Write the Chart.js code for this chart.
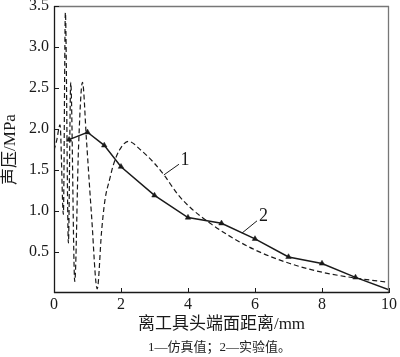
<!DOCTYPE html>
<html>
<head>
<meta charset="utf-8">
<script src="https://cdn.jsdelivr.net/npm/chart.js@4"></script>
<style>
  html, body { margin: 0; padding: 0; background: #fff; }
  #wrap { width: 400px; height: 357px; position: relative; }
</style>
</head>
<body>
<div id="wrap"><canvas id="c" width="400" height="357"></canvas></div>
<script>
// Series 1: simulated values (dashed)
const simX = [0, 0.08, 0.18, 0.28, 0.34, 0.43, 0.5, 0.62, 0.73, 0.85, 0.97, 1.12, 1.29, 1.42, 1.52, 1.67, 1.77, 1.95, 2.22, 2.6, 3.0, 3.3, 3.7, 4.1, 4.7, 5.3, 6.03, 7.04, 8.04, 9.03, 10];
const simY = [1.74, 1.86, 2.05, 0.96, 3.42, 0.61, 2.57, 0.14, 1.75, 2.57, 1.86, 0.95, 0.05, 0.75, 1.13, 1.40, 1.56, 1.74, 1.85, 1.74, 1.58, 1.43, 1.20, 1.03, 0.84, 0.68, 0.52, 0.36, 0.25, 0.18, 0.13];
// Series 2: experimental values (solid with triangles)
const expX = [0.45, 1.0, 1.5, 2.0, 3.0, 4.0, 5.0, 6.0, 7.0, 8.0, 9.0, 10.0];
const expY = [1.87, 1.96, 1.80, 1.54, 1.19, 0.92, 0.85, 0.66, 0.44, 0.36, 0.19, 0.04];
// Axis ticks
const xTicks = [0, 2, 4, 6, 8, 10];
const yTicks = [0.5, 1.0, 1.5, 2.0, 2.5, 3.0, 3.5];
// Curve labels (text, leader start, leader end, label position in data units)
const curveLabels = [
  { text: '1', from: [3.28, 1.44], to: [3.73, 1.57], at: [3.91, 1.62] },
  { text: '2', from: [5.61, 0.73], to: [6.06, 0.88], at: [6.25, 0.93] }
];
const xTitle = '离工具头端面距离/mm';
const yTitle = '声压/MPa';
const caption = '1—仿真值；2—实验值。';

const FONT = "'Liberation Serif', 'Noto Sans CJK SC', serif";
const INK = '#1a1a1a';

const decor = {
  id: 'decor',
  afterDraw(chart) {
    const { ctx, chartArea: a, scales: { x, y } } = chart;
    ctx.save();
    // frame
    ctx.lineWidth = 1.3;
    ctx.strokeStyle = '#777';
    ctx.beginPath();
    ctx.moveTo(a.left, a.top + 0.5); ctx.lineTo(a.right, a.top + 0.5);
    ctx.moveTo(a.right - 0.5, a.top); ctx.lineTo(a.right - 0.5, a.bottom);
    ctx.stroke();
    ctx.strokeStyle = INK;
    ctx.beginPath();
    ctx.moveTo(a.left + 0.5, a.top); ctx.lineTo(a.left + 0.5, a.bottom);
    ctx.moveTo(a.left, a.bottom - 0.5); ctx.lineTo(a.right, a.bottom - 0.5);
    ctx.stroke();
    // inward ticks
    ctx.lineWidth = 1;
    ctx.beginPath();
    xTicks.forEach(v => {
      const px = Math.round(x.getPixelForValue(v)) + 0.5;
      ctx.moveTo(px, a.bottom); ctx.lineTo(px, a.bottom - 5);
    });
    yTicks.forEach(v => {
      const py = Math.round(y.getPixelForValue(v)) + 0.5;
      ctx.moveTo(a.left, py); ctx.lineTo(a.left + 5, py);
    });
    ctx.stroke();
    // curve labels
    ctx.lineWidth = 1;
    ctx.strokeStyle = INK;
    ctx.fillStyle = INK;
    ctx.font = "18px " + FONT;
    ctx.textAlign = 'center';
    ctx.textBaseline = 'middle';
    curveLabels.forEach(l => {
      ctx.beginPath();
      ctx.moveTo(x.getPixelForValue(l.from[0]), y.getPixelForValue(l.from[1]));
      ctx.lineTo(x.getPixelForValue(l.to[0]), y.getPixelForValue(l.to[1]));
      ctx.stroke();
      ctx.fillText(l.text, x.getPixelForValue(l.at[0]), y.getPixelForValue(l.at[1]));
    });
    // caption
    ctx.font = "13px " + FONT;
    ctx.fillStyle = '#222';
    ctx.fillText(caption, (a.left + a.right) / 2 - 2, 348);
    ctx.restore();
  }
};

new Chart(document.getElementById('c'), {
  type: 'line',
  data: {
    datasets: [
      {
        label: '仿真值',
        data: simX.map((v, i) => ({ x: v, y: simY[i] })),
        borderColor: INK,
        borderWidth: 1.2,
        borderDash: [5, 3],
        pointRadius: 0,
        cubicInterpolationMode: 'monotone',
        fill: false
      },
      {
        label: '实验值',
        data: expX.map((v, i) => ({ x: v, y: expY[i] })),
        borderColor: INK,
        backgroundColor: INK,
        borderWidth: 1.5,
        tension: 0,
        pointStyle: 'triangle',
        pointRadius: expX.map(v => v >= 10 ? 0 : 3.2),
        pointBackgroundColor: INK,
        pointBorderColor: INK,
        pointBorderWidth: 0.5,
        fill: false
      }
    ]
  },
  options: {
    responsive: false,
    animation: false,
    devicePixelRatio: 1,
    layout: { padding: { left: 0, right: 11, top: 6, bottom: 0 } },
    plugins: { legend: { display: false }, tooltip: { enabled: false } },
    scales: {
      x: {
        type: 'linear',
        min: 0, max: 10,
        afterBuildTicks: s => { s.ticks = xTicks.map(v => ({ value: v })); },
        afterFit: s => { s.height = 64; s.paddingLeft = 0; s.paddingRight = 0; },
        grid: { display: false, drawTicks: false },
        border: { display: false },
        ticks: {
          color: INK, padding: 2, maxRotation: 0, autoSkip: false,
          font: { family: FONT, size: 16 },
          callback: v => String(v)
        },
        title: {
          display: true, text: xTitle, color: INK,
          font: { family: FONT, size: 17 },
          padding: { top: 0, bottom: 22 }
        }
      },
      y: {
        type: 'linear',
        min: 0, max: 3.5,
        afterBuildTicks: s => { s.ticks = yTicks.map(v => ({ value: v })); },
        afterFit: s => { s.width = 54; s.paddingTop = 0; s.paddingBottom = 0; },
        grid: { display: false, drawTicks: false },
        border: { display: false },
        ticks: {
          color: INK, padding: 5, autoSkip: false,
          font: { family: FONT, size: 16 },
          callback: v => v.toFixed(1)
        },
        title: {
          display: true, text: yTitle, color: INK,
          font: { family: FONT, size: 17 },
          padding: { top: 0, bottom: 0 }
        }
      }
    }
  },
  plugins: [decor]
});
</script>
</body>
</html>
